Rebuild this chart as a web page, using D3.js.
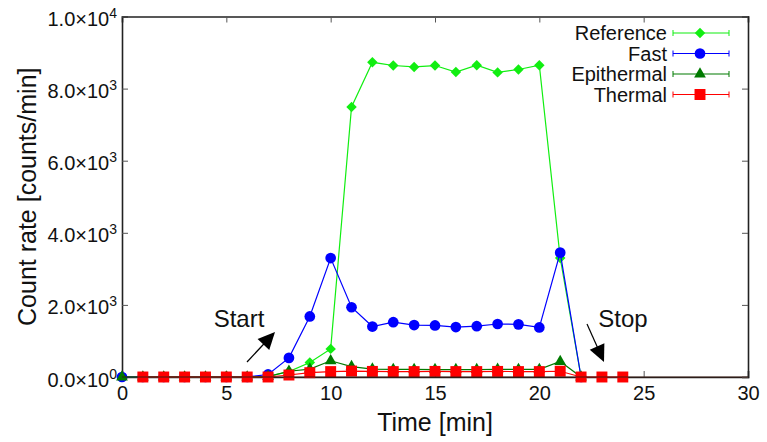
<!DOCTYPE html>
<html>
<head>
<meta charset="utf-8">
<script src="https://cdnjs.cloudflare.com/ajax/libs/d3/7.8.5/d3.min.js"></script>
<style>
  body { margin: 0; background: #fff; }
  svg { display: block; font-family: "Liberation Sans", Arial, Helvetica, sans-serif; }
</style>
</head>
<body>
<svg id="chart" width="767" height="442"></svg>
<script>
// time [min] for each series
const refTime = [0,1,2,3,4,5,6,7,8,9,10,11,12,13,14,15,16,17,18,19,20,21,22]
const refRate = [0,0,0,0,0,0,0,20,150,400,780,7490,8730,8640,8600,8640,8460,8650,8450,8530,8650,3300,0]

const fastTime = [0,1,2,3,4,5,6,7,8,9,10,11,12,13,14,15,16,17,18,19,20,21,22]
const fastRate = [0,0,0,0,0,0,0,70,530,1680,3300,1935,1400,1520,1440,1430,1385,1410,1470,1460,1375,3450,0]

const epiTime = [0,1,2,3,4,5,6,7,8,9,10,11,12,13,14,15,16,17,18,19,20,21,22]
const epiRate = [0,0,0,0,0,0,0,10,160,220,450,290,220,210,210,205,205,205,215,210,210,430,0]

const thermTime = [1,2,3,4,5,6,7,8,9,10,11,12,13,14,15,16,17,18,19,20,21,22,23,24]
const thermRate = [0,0,0,0,0,0,0,55,120,150,165,155,150,150,155,150,150,155,150,150,160,0,0,0]

const xTicks = [0,5,10,15,20,25,30]
const yTicks = [0,2000,4000,6000,8000,10000]
const yTickLabels = [["0.0","0"],["2.0","3"],["4.0","3"],["6.0","3"],["8.0","3"],["1.0","4"]]

const seriesNames = ["Reference","Fast","Epithermal","Thermal"]
const seriesColors = ["#11ee11","#0000ff","#007a00","#ff0000"]
const seriesMarkers = ["diamond","circle","triangle","square"]

const MARGIN = { top: 16.5, right: 19, bottom: 65, left: 122 }
const width = 767, height = 442

const $svg = d3.select('#chart')
const x = d3.scaleLinear().domain([0, 30]).range([MARGIN.left, width - MARGIN.right])
const y = d3.scaleLinear().domain([0, 10000]).range([height - MARGIN.bottom, MARGIN.top])

const series = [
  { time: refTime, rate: refRate },
  { time: fastTime, rate: fastRate },
  { time: epiTime, rate: epiRate },
  { time: thermTime, rate: thermRate }
].map((s, i) => ({
  name: seriesNames[i], color: seriesColors[i], marker: seriesMarkers[i],
  points: s.time.map((t, j) => [t, s.rate[j]])
}))

const symbolFor = {
  diamond: d3.symbol().type(d3.symbolDiamond2).size(70),
  circle: d3.symbol().type(d3.symbolCircle).size(90),
  triangle: d3.symbol().type(d3.symbolTriangle).size(60),
  square: d3.symbol().type(d3.symbolSquare).size(120)
}

// axes with inward ticks
const frameColor = '#222'
const gAxes = $svg.append('g')

const xBottom = d3.axisBottom(x).tickValues(xTicks).tickSize(-6).tickPadding(9).tickFormat(d3.format('d'))
const xTop = d3.axisTop(x).tickValues(xTicks).tickSize(-6).tickFormat('')
const yLeft = d3.axisLeft(y).tickValues(yTicks).tickSize(-6).tickFormat('')
const yRight = d3.axisRight(y).tickValues(yTicks).tickSize(-6).tickFormat('')

gAxes.append('g').attr('transform', `translate(0,${y(0)})`).call(xBottom)
gAxes.append('g').attr('transform', `translate(0,${y(10000)})`).call(xTop)
gAxes.append('g').attr('transform', `translate(${x(0)},0)`).call(yLeft)
gAxes.append('g').attr('transform', `translate(${x(30)},0)`).call(yRight)

gAxes.selectAll('.domain').attr('stroke', frameColor).attr('stroke-width', 1.6)
gAxes.selectAll('.tick line').attr('stroke', '#555').attr('stroke-width', 1)
gAxes.selectAll('.tick text').attr('font-size', 20).attr('fill', '#111')
  .attr('font-family', '"Liberation Sans", Arial, sans-serif')

// y tick labels with powers of ten
const yLab = $svg.append('g')
yTicks.forEach((v, i) => {
  const t = yLab.append('text')
    .attr('x', 117).attr('y', y(v) + 9.5)
    .attr('text-anchor', 'end')
    .attr('font-size', 20).attr('fill', '#111')
  t.append('tspan').text(yTickLabels[i][0] + '×10')
  t.append('tspan').attr('dy', -8).attr('font-size', 14).text(yTickLabels[i][1])
})

// series lines and markers
const line = d3.line().x(d => x(d[0])).y(d => y(d[1]))
const gData = $svg.append('g')
series.forEach(s => {
  gData.append('path')
    .attr('d', line(s.points))
    .attr('fill', 'none')
    .attr('stroke', s.color)
    .attr('stroke-width', 1.2)
  gData.selectAll(null)
    .data(s.points)
    .enter()
    .append('path')
    .attr('transform', d => `translate(${x(d[0])},${y(d[1])})`)
    .attr('d', symbolFor[s.marker]())
    .attr('fill', s.color)
})

// redraw baseline on top
$svg.append('line')
  .attr('x1', x(0)).attr('x2', x(30)).attr('y1', y(0)).attr('y2', y(0))
  .attr('stroke', '#3a1a10').attr('stroke-width', 1.4).attr('opacity', 0.6)

// legend
const gLeg = $svg.append('g')
series.forEach((s, i) => {
  const ly = 33 + i * 20.5
  gLeg.append('text')
    .attr('x', 667).attr('y', ly + 7)
    .attr('text-anchor', 'end')
    .attr('font-size', 20).attr('fill', '#111')
    .text(s.name)
  gLeg.append('line').attr('x1', 673).attr('x2', 729).attr('y1', ly).attr('y2', ly)
    .attr('stroke', s.color).attr('stroke-width', 1.2)
  ;[673, 729].forEach(cx => {
    gLeg.append('line').attr('x1', cx).attr('x2', cx).attr('y1', ly - 3).attr('y2', ly + 3)
      .attr('stroke', s.color).attr('stroke-width', 1)
  })
  gLeg.append('path')
    .attr('transform', `translate(700,${ly})`)
    .attr('d', symbolFor[s.marker]())
    .attr('fill', s.color)
})

// annotations
function arrow(x1, y1, x2, y2) {
  const ang = Math.atan2(y2 - y1, x2 - x1)
  $svg.append('line')
    .attr('x1', x1).attr('y1', y1)
    .attr('x2', x2 - 12 * Math.cos(ang)).attr('y2', y2 - 12 * Math.sin(ang))
    .attr('stroke', '#000').attr('stroke-width', 1.2)
  $svg.append('path')
    .attr('d', 'M0,0 L-17,-8 L-17,8 z')
    .attr('fill', '#000')
    .attr('transform', `translate(${x2},${y2}) rotate(${ang * 180 / Math.PI})`)
}
arrow(247, 362, 275, 332)
arrow(587, 324, 604, 362)

$svg.append('text').attr('x', 239).attr('y', 327).attr('text-anchor', 'middle')
  .attr('font-size', 24).attr('fill', '#111').text('Start')
$svg.append('text').attr('x', 623).attr('y', 327).attr('text-anchor', 'middle')
  .attr('font-size', 24).attr('fill', '#111').text('Stop')

// axis titles
$svg.append('text').attr('x', x(15)).attr('y', 431).attr('text-anchor', 'middle')
  .attr('font-size', 25).attr('fill', '#111').text('Time [min]')
$svg.append('text')
  .attr('transform', `translate(36,${(y(0) + y(10000)) / 2}) rotate(-90)`)
  .attr('text-anchor', 'middle')
  .attr('font-size', 25).attr('fill', '#111').text('Count rate [counts/min]')
</script>
</body>
</html>
